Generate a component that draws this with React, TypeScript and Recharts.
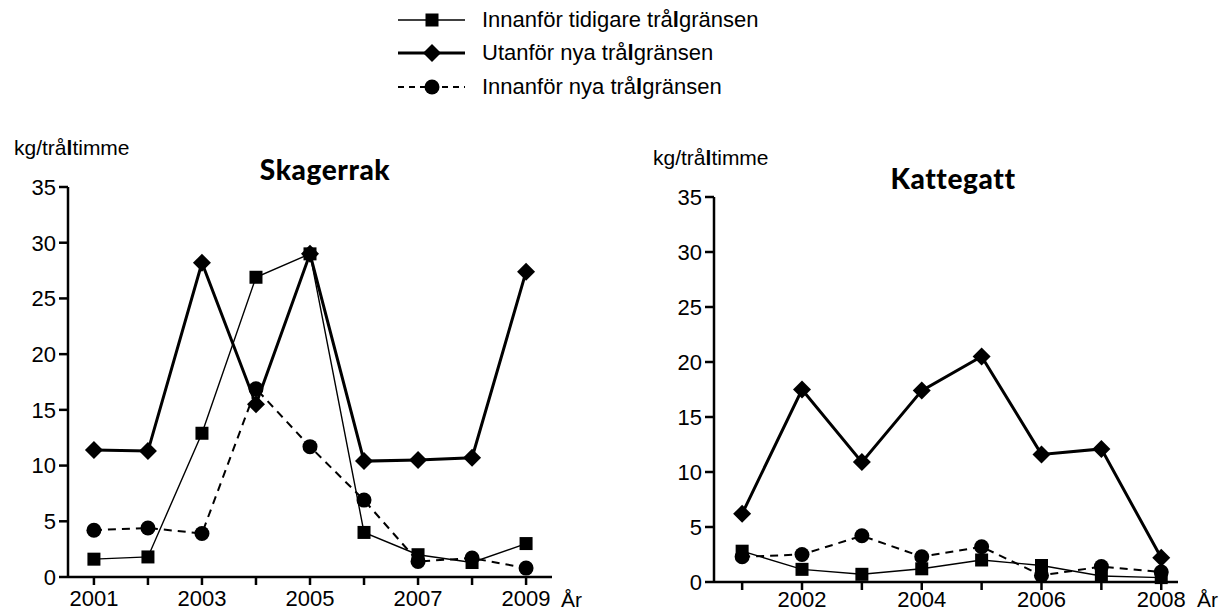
import React from "react";
import { LineChart, Line, XAxis, YAxis } from "recharts";

// Skagerrak
const skagYears = [2001, 2002, 2003, 2004, 2005, 2006, 2007, 2008, 2009];
const skagTidigare = [1.6, 1.8, 12.9, 26.9, 29.0, 4.0, 2.0, 1.3, 3.0];
const skagUtanfor = [11.4, 11.3, 28.2, 15.5, 29.0, 10.4, 10.5, 10.7, 27.4];
const skagNya = [4.2, 4.4, 3.9, 16.9, 11.7, 6.9, 1.4, 1.7, 0.8];
const skagTickLabels = ["2001", "2003", "2005", "2007", "2009"];

// Kattegatt
const katYears = [2001, 2002, 2003, 2004, 2005, 2006, 2007, 2008];
const katTidigare = [2.8, 1.15, 0.7, 1.2, 2.0, 1.5, 0.55, 0.4];
const katUtanfor = [6.2, 17.5, 10.9, 17.4, 20.5, 11.6, 12.1, 2.2];
const katNya = [2.3, 2.5, 4.2, 2.3, 3.2, 0.6, 1.4, 0.9];
const katTickLabels = ["2002", "2004", "2006", "2008"];

const yTicks = [0, 5, 10, 15, 20, 25, 30, 35];

const legendItems = [
  { pre: "Innanför tidigare trå", shape: "square", width: 1.4, dash: "" },
  { pre: "Utanför nya trå", shape: "diamond", width: 3, dash: "" },
  { pre: "Innanför nya trå", shape: "circle", width: 2, dash: "6 5" },
];

const FONT = "'Liberation Sans', Arial, sans-serif";
const TITLE_FONT = "Lato, 'Open Sans', sans-serif";

function Marker({ shape, cx, cy }: { shape: string; cx: number; cy: number }) {
  if (shape === "square") {
    return <rect x={cx - 6.5} y={cy - 6.5} width={13} height={13} fill="#000" />;
  }
  if (shape === "diamond") {
    const r = 9;
    return (
      <polygon
        points={`${cx},${cy - r} ${cx + r},${cy} ${cx},${cy + r} ${cx - r},${cy}`}
        fill="#000"
      />
    );
  }
  return <circle cx={cx} cy={cy} r={7.5} fill="#000" />;
}

function dotFor(shape: string) {
  return (props: any) => {
    const { cx, cy, index } = props;
    if (cx == null || cy == null) return <g key={`n-${shape}-${index}`} />;
    return (
      <g key={`${shape}-${index}`}>
        <Marker shape={shape} cx={cx} cy={cy} />
      </g>
    );
  };
}

function buildRows(years: number[], a: number[], b: number[], c: number[]) {
  return years.map((y, i) => ({ year: y, tidigare: a[i], utanfor: b[i], nya: c[i] }));
}

interface PanelProps {
  data: { year: number; tidigare: number; utanfor: number; nya: number }[];
  years: number[];
  labels: string[];
  domain: [number, number];
  left: number;
  width: number;
  height: number;
  plotLeft: number;
  plotRight: number;
  plotTop: number;
  plotBottom: number;
  xTickMargin: number;
}

function Panel(p: PanelProps) {
  return (
    <div style={{ position: "absolute", left: p.left, top: 0 }}>
      <LineChart
        width={p.width}
        height={p.height}
        data={p.data}
        margin={{
          top: p.plotTop,
          left: 0,
          right: p.width - p.plotRight,
          bottom: p.height - p.plotBottom - 30,
        }}
      >
        <XAxis
          dataKey="year"
          type="number"
          domain={p.domain}
          ticks={p.years}
          interval={0}
          allowDataOverflow
          height={30}
          tickSize={8}
          tickMargin={p.xTickMargin}
          tickFormatter={(v) => (p.labels.includes(String(v)) ? String(v) : "")}
          stroke="#000"
          strokeWidth={2.5}
          tick={{ fill: "#000", fontSize: 22, fontFamily: FONT }}
        />
        <YAxis
          type="number"
          domain={[0, 35]}
          ticks={yTicks}
          interval={0}
          width={p.plotLeft}
          tickSize={9}
          tickMargin={3}
          stroke="#000"
          strokeWidth={2.5}
          tick={{ fill: "#000", fontSize: 22, fontFamily: FONT }}
        />
        <Line
          dataKey="tidigare"
          stroke="#000"
          strokeWidth={1.4}
          dot={dotFor("square")}
          activeDot={false}
          isAnimationActive={false}
        />
        <Line
          dataKey="nya"
          stroke="#000"
          strokeWidth={2}
          strokeDasharray="8 6"
          dot={dotFor("circle")}
          activeDot={false}
          isAnimationActive={false}
        />
        <Line
          dataKey="utanfor"
          stroke="#000"
          strokeWidth={3}
          dot={dotFor("diamond")}
          activeDot={false}
          isAnimationActive={false}
        />
      </LineChart>
    </div>
  );
}

function Legend() {
  return (
    <div style={{ position: "absolute", left: 396, top: 3 }}>
      {legendItems.map((item) => (
        <div
          key={item.pre}
          style={{ display: "flex", alignItems: "center", height: 33.5, fontFamily: FONT, fontSize: 22 }}
        >
          <svg width={74} height={24}>
            <line
              x1={2}
              x2={69}
              y1={12}
              y2={12}
              stroke="#000"
              strokeWidth={item.width}
              strokeDasharray={item.dash}
            />
            <Marker shape={item.shape} cx={36} cy={12} />
          </svg>
          <span style={{ marginLeft: 12, whiteSpace: "nowrap" }}>
            {item.pre}
            <b>l</b>
            gränsen
          </span>
        </div>
      ))}
    </div>
  );
}

const textStyle: React.CSSProperties = {
  position: "absolute",
  fontFamily: FONT,
  fontSize: 21,
  lineHeight: 1,
  color: "#000",
  whiteSpace: "nowrap",
};

const titleStyle: React.CSSProperties = {
  ...textStyle,
  fontFamily: TITLE_FONT,
  fontWeight: 900,
  fontSize: 28,
  letterSpacing: 0.6,
  width: 220,
  textAlign: "center",
};

export default function App() {
  const skagRows = buildRows(skagYears, skagTidigare, skagUtanfor, skagNya);
  const katRows = buildRows(katYears, katTidigare, katUtanfor, katNya);
  return (
    <div
      style={{
        position: "absolute",
        left: 0,
        top: 0,
        width: 1223,
        height: 612,
        background: "#fff",
        overflow: "hidden",
      }}
    >
      <Legend />
      <div style={{ ...textStyle, left: 14, top: 137 }}>
        kg/trå<b>l</b>timme
      </div>
      <div style={{ ...textStyle, left: 653, top: 147 }}>
        kg/trå<b>l</b>timme
      </div>
      <div style={{ ...titleStyle, left: 215, top: 155 }}>Skagerrak</div>
      <div style={{ ...titleStyle, left: 843, top: 164 }}>Kattegatt</div>
      <Panel
        data={skagRows}
        years={skagYears}
        labels={skagTickLabels}
        domain={[2000.52, 2009.48]}
        left={0}
        width={600}
        height={612}
        plotLeft={68}
        plotRight={552}
        plotTop={187}
        plotBottom={577}
        xTickMargin={5}
      />
      <Panel
        data={katRows}
        years={katYears}
        labels={katTickLabels}
        domain={[2000.53, 2008.28]}
        left={620}
        width={603}
        height={612}
        plotLeft={94}
        plotRight={558}
        plotTop={197}
        plotBottom={582}
        xTickMargin={1}
      />
      <div style={{ ...textStyle, left: 561, top: 589 }}>År</div>
      <div style={{ ...textStyle, left: 1197, top: 589 }}>År</div>
    </div>
  );
}
